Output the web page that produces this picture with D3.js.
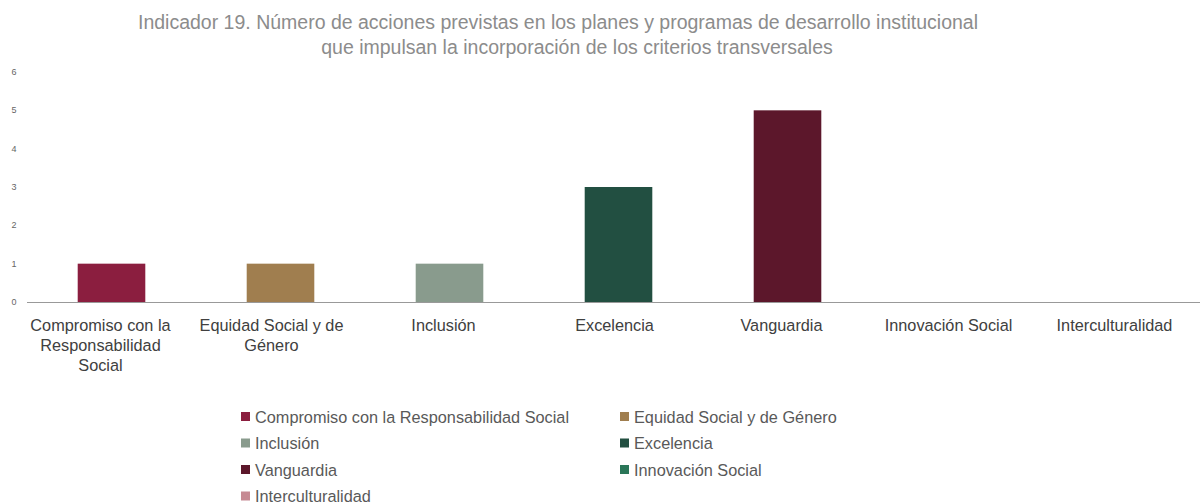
<!DOCTYPE html>
<html>
<head>
<meta charset="utf-8">
<script src="https://cdn.jsdelivr.net/npm/d3@7"></script>
<style>
  body { margin: 0; background: #fff; }
  svg { display: block; font-family: "Liberation Sans", Arial, sans-serif; }
</style>
</head>
<body>
<svg class="chart"></svg>
<script>
var categories = ["Compromiso con la Responsabilidad Social", "Equidad Social y de Género", "Inclusión",
    "Excelencia", "Vanguardia", "Innovación Social", "Interculturalidad"];
var values = [1, 1, 1, 3, 5, 0, 0];
var colors = ["#8b1e3f", "#a07e4f", "#899b8d", "#224f41", "#5c172b", "#2a7658", "#c68a93"];
var yTicks = [0, 1, 2, 3, 4, 5, 6];
var titleLines = ["Indicador 19. Número de acciones previstas en los planes y programas de desarrollo institucional",
    "que impulsan la incorporación de los criterios transversales"];

var width = 1200;
var height = 502;

var chart = d3.select(".chart")
    .attr("width", width)
    .attr("height", height);

var x = d3.scaleBand()
    .domain(categories)
    .range([27, 27 + 7 * 169])
    .paddingInner(0.6)
    .paddingOuter(0.3);

var y = d3.scaleLinear()
    .domain([0, 6])
    .range([302, 72]);

// title
chart.append("g")
    .selectAll("text")
    .data(titleLines)
    .enter().append("text")
    .attr("x", function(d, i) { return i === 0 ? 558 : 577; })
    .attr("y", function(d, i) { return 29 + i * 25; })
    .attr("text-anchor", "middle")
    .attr("fill", "#8c8c8c")
    .style("font-size", "19.5px")
    .text(function(d) { return d; });

// y tick labels (no gridlines)
chart.append("g")
    .selectAll("text")
    .data(yTicks)
    .enter().append("text")
    .attr("x", 14)
    .attr("y", function(d) { return y(d) + 3; })
    .attr("text-anchor", "middle")
    .attr("fill", "#666")
    .style("font-size", "9px")
    .text(function(d) { return d; });

// bars
chart.append("g")
    .selectAll("rect")
    .data(values)
    .enter().append("rect")
    .attr("x", function(d, i) { return x(categories[i]); })
    .attr("y", function(d) { return y(d); })
    .attr("width", x.bandwidth())
    .attr("height", function(d) { return y(0) - y(d); })
    .attr("fill", function(d, i) { return colors[i]; });

// baseline
chart.append("line")
    .attr("x1", 27)
    .attr("x2", width)
    .attr("y1", y(0) + 0.5)
    .attr("y2", y(0) + 0.5)
    .attr("stroke", "#999")
    .attr("stroke-width", 1.2);

// category labels, wrapped
var wrapped = [
    ["Compromiso con la", "Responsabilidad", "Social"],
    ["Equidad Social y de", "Género"],
    ["Inclusión"], ["Excelencia"], ["Vanguardia"], ["Innovación Social"], ["Interculturalidad"]
];
var offsets = [-11, -9, -6, -4, -6, -8, -11];

var catLabel = chart.append("g")
    .selectAll("text")
    .data(categories)
    .enter().append("text")
    .attr("text-anchor", "middle")
    .attr("fill", "#404040")
    .style("font-size", "16.3px")
    .attr("y", 331);

catLabel.each(function(d, i) {
    var t = d3.select(this);
    var cx = x(d) + x.bandwidth() / 2 + offsets[i];
    wrapped[i].forEach(function(line, j) {
        t.append("tspan")
            .attr("x", cx)
            .attr("dy", j === 0 ? 0 : 20)
            .text(line);
    });
});

// legend
var legend = chart.append("g")
    .selectAll("g")
    .data(categories)
    .enter().append("g")
    .attr("transform", function(d, i) {
        return "translate(" + (i % 2 === 0 ? 241 : 620) + "," + (417 + Math.floor(i / 2) * 26.5) + ")";
    });

legend.append("rect")
    .attr("x", 0)
    .attr("y", -5)
    .attr("width", 9)
    .attr("height", 9)
    .attr("fill", function(d, i) { return colors[i]; });

legend.append("text")
    .attr("x", 14)
    .attr("y", 5.5)
    .attr("fill", "#595959")
    .style("font-size", "16.3px")
    .text(function(d) { return d; });
</script>
</body>
</html>
